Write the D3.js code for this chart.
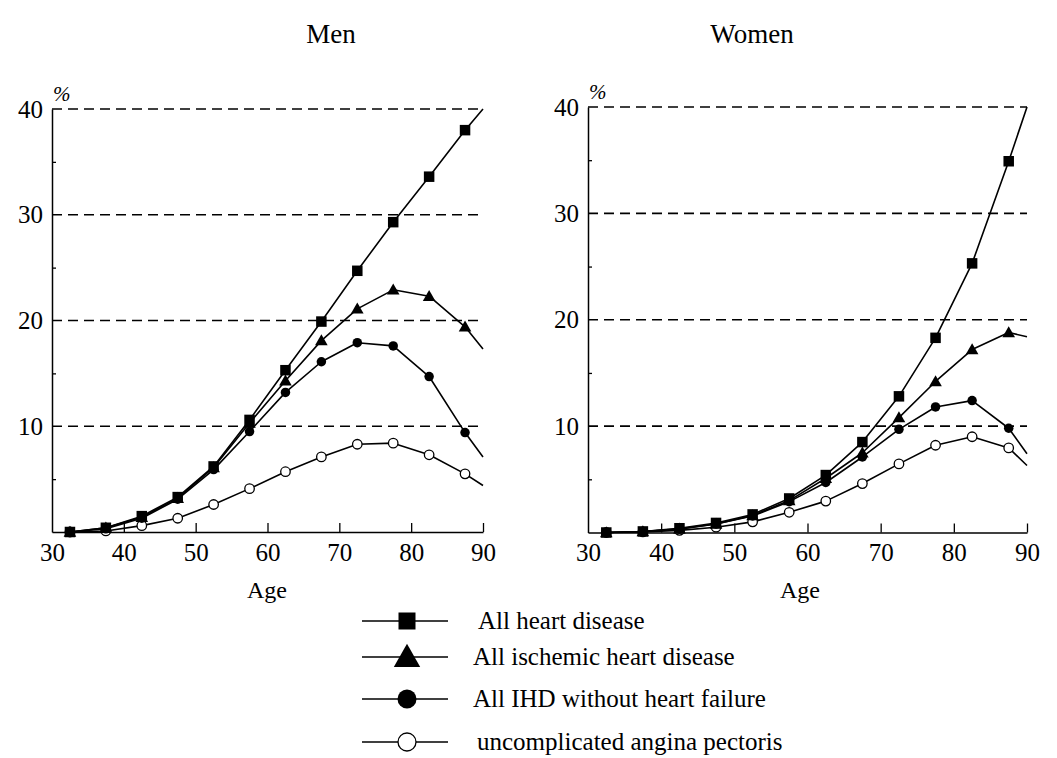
<!DOCTYPE html>
<html>
<head>
<meta charset="utf-8">
<script src="https://cdn.jsdelivr.net/npm/d3@7"></script>
<style>
  html, body { margin: 0; padding: 0; background: #fff; }
  svg { display: block; }
  text { font-family: "Liberation Serif", "Times New Roman", serif; fill: #000; }
</style>
</head>
<body>
<svg id="chart" width="1057" height="758"></svg>
<script>
// Age-group midpoints; the final entry (90) ends each curve without a marker.
const ages = [32.5, 37.5, 42.5, 47.5, 52.5, 57.5, 62.5, 67.5, 72.5, 77.5, 82.5, 87.5, 90];

// Men, cumulative incidence (%)
const menAllHeart     = [0, 0.4, 1.5, 3.3, 6.2, 10.6, 15.3, 19.9, 24.7, 29.3, 33.6, 38.0, 40.0];
const menIschemic     = [0, 0.4, 1.4, 3.2, 6.1, 10.3, 14.3, 18.1, 21.1, 22.9, 22.3, 19.4, 17.3];
const menIHDnoHF      = [0, 0.3, 1.3, 3.1, 5.9, 9.5, 13.2, 16.1, 17.9, 17.6, 14.7, 9.4, 7.1];
const menAngina       = [0, 0.1, 0.6, 1.3, 2.6, 4.1, 5.7, 7.1, 8.3, 8.4, 7.3, 5.5, 4.4];

// Women, cumulative incidence (%)
const womenAllHeart   = [0, 0.1, 0.4, 0.9, 1.7, 3.2, 5.4, 8.5, 12.8, 18.3, 25.3, 34.9, 40.0];
const womenIschemic   = [0, 0.1, 0.35, 0.8, 1.6, 3.0, 5.1, 7.5, 10.8, 14.2, 17.2, 18.8, 18.4];
const womenIHDnoHF    = [0, 0.1, 0.3, 0.8, 1.55, 2.9, 4.7, 7.1, 9.7, 11.8, 12.4, 9.8, 7.4];
const womenAngina     = [0, 0.05, 0.2, 0.5, 1.0, 1.9, 2.95, 4.6, 6.45, 8.2, 9.0, 7.95, 6.3];

const seriesNames = ["All heart disease", "All ischemic heart disease",
                     "All IHD without heart failure", "uncomplicated angina pectoris"];
const seriesMarkers = ["square", "triangle", "circle", "open"];

const xTicks = [30, 40, 50, 60, 70, 80, 90];
const yTicks = [10, 20, 30, 40];
const yMinorTicks = [5, 15, 25, 35];
const panelTitles = ["Men", "Women"];

const svg = d3.select("#chart");

function drawMarker(g, type, cx, cy, s) {
  if (type === "square") {
    g.append("rect").attr("x", cx - s / 2).attr("y", cy - s / 2)
      .attr("width", s).attr("height", s).attr("fill", "#000");
  } else if (type === "triangle") {
    const h = s * 1.0, w = s * 1.2;
    g.append("path")
      .attr("d", `M${cx},${cy - h * 0.6}L${cx + w / 2},${cy + h * 0.45}L${cx - w / 2},${cy + h * 0.45}Z`)
      .attr("fill", "#000");
  } else if (type === "circle") {
    g.append("circle").attr("cx", cx).attr("cy", cy).attr("r", s / 2).attr("fill", "#000");
  } else {
    g.append("circle").attr("cx", cx).attr("cy", cy).attr("r", s / 2)
      .attr("fill", "#fff").attr("stroke", "#000").attr("stroke-width", 1.3);
  }
}

function drawPanel(cfg) {
  const x = d3.scaleLinear().domain([30, 90]).range([cfg.x0, cfg.x1]);
  const y = d3.scaleLinear().domain([0, 40]).range([cfg.y0, cfg.y1]);
  const g = svg.append("g");

  // title
  g.append("text").attr("x", cfg.titleX).attr("y", 43)
    .attr("text-anchor", "middle").attr("font-size", 27).text(cfg.title);

  // dashed reference lines
  g.selectAll("line.grid").data(yTicks).enter().append("line")
    .attr("x1", x(30)).attr("x2", x(90))
    .attr("y1", d => y(d)).attr("y2", d => y(d))
    .attr("stroke", "#000").attr("stroke-width", 1.7)
    .attr("stroke-dasharray", "10,6");

  // y axis with labels
  const yAxis = g.append("g").attr("transform", `translate(${x(30)},0)`)
    .call(d3.axisLeft(y).tickValues(yTicks).tickSize(0).tickSizeOuter(0).tickPadding(9));
  yAxis.select(".domain").attr("stroke-width", 1.5);
  yAxis.selectAll("text").attr("font-size", 25).attr("font-family", "Liberation Serif");

  // minor inward ticks on y axis
  g.append("g").attr("transform", `translate(${x(30)},0)`)
    .call(d3.axisRight(y).tickValues(yMinorTicks).tickSize(4).tickFormat(""))
    .call(a => a.select(".domain").remove())
    .selectAll("line").attr("stroke-width", 1.3);

  // x axis labels
  const xAxis = g.append("g").attr("transform", `translate(0,${y(0)})`)
    .call(d3.axisBottom(x).tickValues(xTicks).tickSize(0).tickSizeOuter(0).tickPadding(11));
  xAxis.select(".domain").attr("stroke-width", 1.5);
  xAxis.selectAll("text").attr("font-size", 25).attr("font-family", "Liberation Serif");

  // inward x ticks
  g.append("g").attr("transform", `translate(0,${y(0)})`)
    .call(d3.axisTop(x).tickValues(xTicks.slice(1)).tickSize(9).tickFormat(""))
    .call(a => a.select(".domain").remove())
    .selectAll("line").attr("stroke-width", 1.3);

  // percent sign
  g.append("text").attr("x", x(30) + 1).attr("y", y(40) - 8)
    .attr("font-size", 21).attr("font-style", "italic").text("%");

  // x axis title
  g.append("text").attr("x", cfg.ageX).attr("y", 598)
    .attr("text-anchor", "middle").attr("font-size", 24).text("Age");

  const line = d3.line().x(d => x(d[0])).y(d => y(d[1]));

  cfg.series.forEach((vals, i) => {
    const pts = ages.map((a, j) => [a, vals[j]]);
    g.append("path").attr("d", line(pts)).attr("fill", "none")
      .attr("stroke", "#000").attr("stroke-width", 1.6)
      .attr("stroke-linejoin", "round");
  });
  // markers drawn on top, angina first so filled symbols stay visible
  [3, 2, 1, 0].forEach(i => {
    const vals = cfg.series[i];
    ages.slice(0, -1).forEach((a, j) => {
      const size = seriesMarkers[i] === "square" ? 10.5 : seriesMarkers[i] === "triangle" ? 10.5 : 9.5;
      drawMarker(g, seriesMarkers[i], x(a), y(vals[j]), size);
    });
  });
}

drawPanel({
  title: panelTitles[0], titleX: 331, ageX: 267,
  x0: 52, x1: 483, y0: 532, y1: 109,
  series: [menAllHeart, menIschemic, menIHDnoHF, menAngina]
});
drawPanel({
  title: panelTitles[1], titleX: 752, ageX: 800,
  x0: 588, x1: 1027, y0: 532.5, y1: 107,
  series: [womenAllHeart, womenIschemic, womenIHDnoHF, womenAngina]
});

// legend
const legendRows = [621, 657, 699, 742];
const legendTextX = [478, 473, 473, 477];
const legendSizes = [17, 22, 19, 18];
const lg = svg.append("g");
seriesNames.forEach((name, i) => {
  const ly = legendRows[i];
  lg.append("line").attr("x1", 362).attr("x2", 448).attr("y1", ly).attr("y2", ly)
    .attr("stroke", "#000").attr("stroke-width", 1.6);
  drawMarker(lg, seriesMarkers[i], 407, ly, legendSizes[i]);
  lg.append("text").attr("x", legendTextX[i]).attr("y", ly).attr("dy", "0.3em")
    .attr("font-size", 25).text(name);
});
</script>
</body>
</html>
